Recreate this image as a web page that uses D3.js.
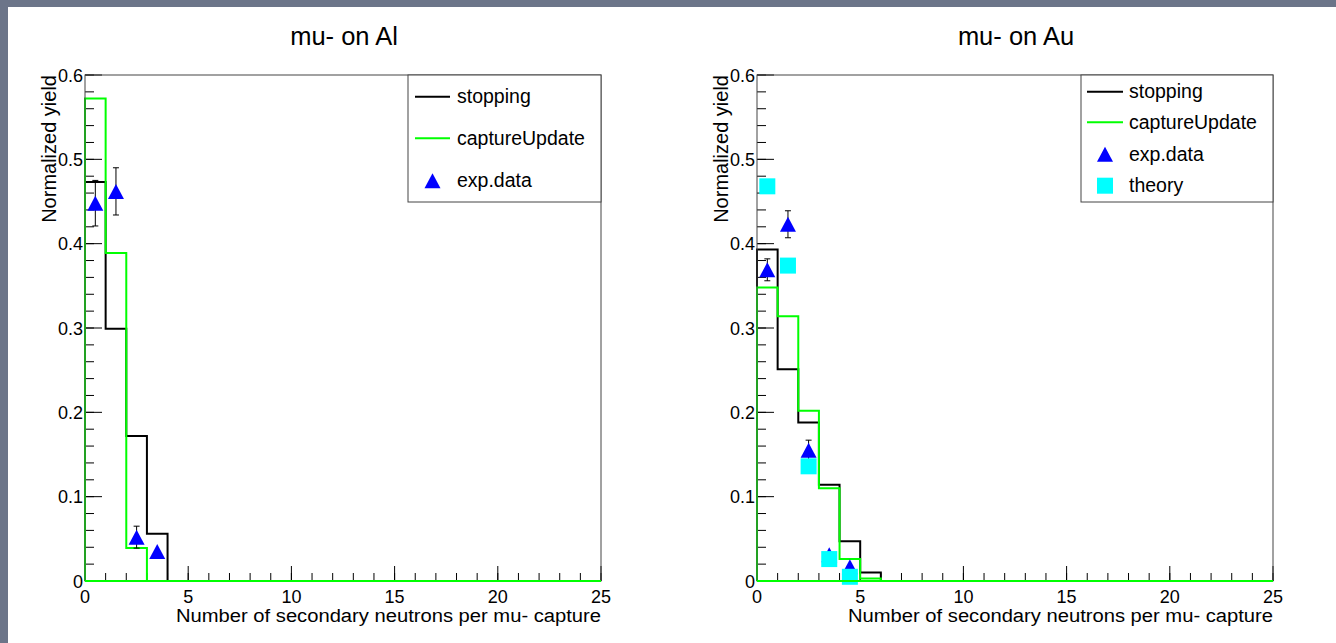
<!DOCTYPE html>
<html>
<head>
<meta charset="utf-8">
<script src="https://cdn.jsdelivr.net/npm/d3@7"></script>
<style>
html,body{margin:0;padding:0;background:#6c7589;}
svg{display:block;}
text{font-family:"Liberation Sans",Arial,Helvetica,sans-serif;fill:#000;}
</style>
</head>
<body>
<svg id="c" width="1336" height="643"></svg>
<script>
// ---------------- data ----------------
const binEdges = [0,1,2,3,4,5,6,7,8,9,10,11,12,13,14,15,16,17,18,19,20,21,22,23,24,25];
const xTicks = [0,5,10,15,20,25];
const yTicks = [0,0.1,0.2,0.3,0.4,0.5,0.6];
const yTickLabels = ["0","0.1","0.2","0.3","0.4","0.5","0.6"];

const titles = ["mu- on Al","mu- on Au"];
const xTitle = "Number of secondary neutrons per mu- capture";
const yTitle = "Normalized yield";

// mu- on Al
const alStopping = [0.473,0.299,0.172,0.056,0,0,0,0,0,0,0,0,0,0,0,0,0,0,0,0,0,0,0,0,0];
const alCapture  = [0.572,0.389,0.039,0,0,0,0,0,0,0,0,0,0,0,0,0,0,0,0,0,0,0,0,0,0];
const alExpX   = [0.5,1.5,2.5,3.5];
const alExpY   = [0.448,0.462,0.052,0.035];
const alExpErr = [0.027,0.028,0.013,0.0];

// mu- on Au
const auStopping = [0.393,0.251,0.188,0.114,0.047,0.010,0,0,0,0,0,0,0,0,0,0,0,0,0,0,0,0,0,0,0];
const auCapture  = [0.348,0.314,0.202,0.110,0.026,0.003,0,0,0,0,0,0,0,0,0,0,0,0,0,0,0,0,0,0,0];
const auExpX   = [0.5,1.5,2.5,3.5,4.5];
const auExpY   = [0.369,0.423,0.155,0.031,0.017];
const auExpErr = [0.013,0.016,0.012,0.0,0.0];
const auTheoryX = [0.5,1.5,2.5,3.5,4.5];
const auTheoryY = [0.468,0.374,0.136,0.026,0.005];

const legendAl = ["stopping","captureUpdate","exp.data"];
const legendAu = ["stopping","captureUpdate","exp.data","theory"];

// ---------------- drawing ----------------
const svg = d3.select("#c");
svg.append("rect").attr("x",8).attr("y",7).attr("width",1336-8).attr("height",643-7).attr("fill","#fff");

const COL = {stop:"#000000", cap:"#00ff00", exp:"#0000ff", th:"#00ffff"};

function triangle(g, cx, cy){
  const w=8, h=7.5;
  g.append("path").attr("d",`M${cx},${cy-h}L${cx+w},${cy+h}L${cx-w},${cy+h}Z`).attr("fill",COL.exp);
}
function square(g, cx, cy){
  g.append("rect").attr("x",cx-8).attr("y",cy-8).attr("width",16).attr("height",16).attr("fill",COL.th);
}

function panel(cfg){
  const g = svg.append("g");
  const x = d3.scaleLinear().domain([0,25]).range([cfg.x0,cfg.x1]);
  const y = d3.scaleLinear().domain([0,0.6]).range([581,75]);

  // title
  g.append("text").attr("x",(cfg.x0+cfg.x1)/2+1).attr("y",45).attr("text-anchor","middle")
    .style("font-size","25.5px").text(cfg.title);

  // y minor ticks + major ticks (inside, on left axis)
  const yMinor = d3.range(0,0.6001,0.02);
  g.selectAll(".ymin").data(yMinor).enter().append("line")
    .attr("x1",x(0)).attr("x2",x(0)+9).attr("y1",d=>y(d)).attr("y2",d=>y(d))
    .attr("stroke","#000").attr("stroke-width",1);
  g.selectAll(".ymaj").data(yTicks).enter().append("line")
    .attr("x1",x(0)).attr("x2",x(0)+17).attr("y1",d=>y(d)).attr("y2",d=>y(d))
    .attr("stroke","#000").attr("stroke-width",1);
  g.selectAll(".ylab").data(yTicks).enter().append("text")
    .attr("x",x(0)-2).attr("y",d=>y(d)+6.5).attr("text-anchor","end")
    .style("font-size","18px").text((d,i)=>yTickLabels[i]);

  // x ticks
  g.selectAll(".xmin").data(binEdges).enter().append("line")
    .attr("x1",d=>x(d)).attr("x2",d=>x(d)).attr("y1",y(0)).attr("y2",y(0)-8)
    .attr("stroke","#000").attr("stroke-width",1);
  g.selectAll(".xmaj").data(xTicks).enter().append("line")
    .attr("x1",d=>x(d)).attr("x2",d=>x(d)).attr("y1",y(0)).attr("y2",y(0)-15)
    .attr("stroke","#000").attr("stroke-width",1);
  g.selectAll(".xlab").data(xTicks).enter().append("text")
    .attr("x",d=>x(d)).attr("y",603).attr("text-anchor","middle")
    .style("font-size","18px").text(d=>d);

  // axis titles
  g.append("text").attr("x",cfg.x1).attr("y",622).attr("text-anchor","end")
    .style("font-size","18px").attr("textLength",425).attr("lengthAdjust","spacingAndGlyphs").text(xTitle);
  g.append("text").attr("transform",`translate(${cfg.x0-29},75) rotate(-90)`).attr("text-anchor","end")
    .style("font-size","20px").text(yTitle);

  // histograms
  function histPath(vals){
    const pts = [[0,0]];
    vals.forEach((v,i)=>{ pts.push([binEdges[i],v]); pts.push([binEdges[i+1],v]); });
    pts.push([25,0]);
    return d3.line().x(d=>x(d[0])).y(d=>y(d[1]))(pts);
  }
  g.append("path").attr("d",histPath(cfg.stop)).attr("fill","none").attr("stroke",COL.stop).attr("stroke-width",2);
  g.append("path").attr("d",histPath(cfg.cap)).attr("fill","none").attr("stroke",COL.cap).attr("stroke-width",2);

  // exp data with error bars
  cfg.expX.forEach((xv,i)=>{
    const e = cfg.expErr[i];
    if(e>0){
      const cx = x(xv);
      g.append("line").attr("x1",cx).attr("x2",cx).attr("y1",y(cfg.expY[i]+e)).attr("y2",y(cfg.expY[i]-e)).attr("stroke","#000");
      [cfg.expY[i]+e, cfg.expY[i]-e].forEach(v=>{
        g.append("line").attr("x1",cx-3).attr("x2",cx+3).attr("y1",y(v)).attr("y2",y(v)).attr("stroke","#000");
      });
    }
  });
  cfg.expX.forEach((xv,i)=> triangle(g, x(xv), y(cfg.expY[i])));
  if(cfg.thX){ cfg.thX.forEach((xv,i)=> square(g, x(xv), y(cfg.thY[i]))); }

  // frame
  g.append("rect").attr("x",cfg.x0).attr("y",75).attr("width",cfg.x1-cfg.x0).attr("height",581-75)
    .attr("fill","none").attr("stroke","#444").attr("stroke-width",1);
  // redraw green baseline over frame bottom
  g.append("line").attr("x1",x(0)).attr("x2",x(25)).attr("y1",y(0)).attr("y2",y(0)).attr("stroke",COL.cap).attr("stroke-width",2);

  // legend
  const L = cfg.leg;
  g.append("rect").attr("x",L.x0).attr("y",75).attr("width",cfg.x1-L.x0).attr("height",202-75)
    .attr("fill","#fff").attr("stroke","#444").attr("stroke-width",1);
  L.items.forEach((name,i)=>{
    const yy = L.ys[i];
    if(name==="stopping" || name==="captureUpdate"){
      g.append("line").attr("x1",L.lx0).attr("x2",L.lx1).attr("y1",yy).attr("y2",yy)
        .attr("stroke", name==="stopping"?COL.stop:COL.cap).attr("stroke-width",2);
    } else if(name==="exp.data"){
      triangle(g,(L.lx0+L.lx1)/2,yy);
    } else {
      square(g,(L.lx0+L.lx1)/2,yy);
    }
    g.append("text").attr("x",L.tx).attr("y",yy+6.5).style("font-size","19.5px").text(name);
  });
}

panel({title:titles[0], x0:85, x1:601, stop:alStopping, cap:alCapture,
  expX:alExpX, expY:alExpY, expErr:alExpErr,
  leg:{x0:408, lx0:415, lx1:450, tx:457, ys:[96.7,138.3,180.7], items:legendAl}});
panel({title:titles[1], x0:757, x1:1273, stop:auStopping, cap:auCapture,
  expX:auExpX, expY:auExpY, expErr:auExpErr, thX:auTheoryX, thY:auTheoryY,
  leg:{x0:1081, lx0:1087, lx1:1123, tx:1129, ys:[91.7,122.3,154.3,185.7], items:legendAu}});
</script>
</body>
</html>
